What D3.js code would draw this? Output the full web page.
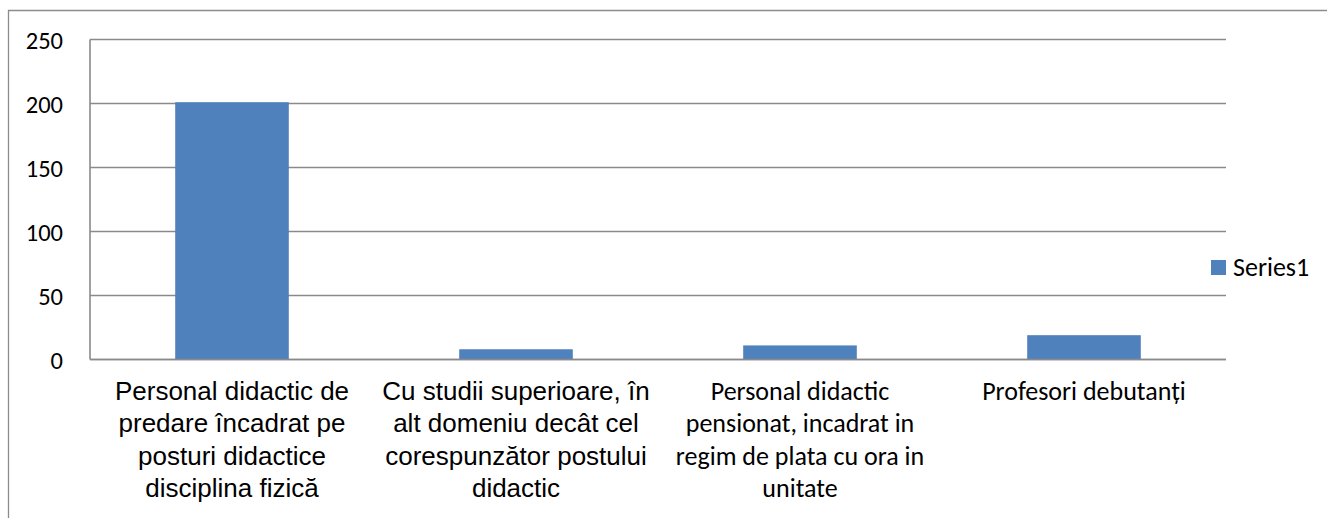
<!DOCTYPE html>
<html>
<head>
<meta charset="utf-8">
<script src="https://cdn.jsdelivr.net/npm/d3@7"></script>
<style>
  html, body { margin: 0; padding: 0; background: #fff; }
  svg { display: block; }
</style>
</head>
<body>
<svg id="chart" width="1327" height="518"></svg>
<script>
const categories = [
  ["Personal didactic de", "predare încadrat pe", "posturi didactice", "disciplina fizică"],
  ["Cu studii superioare, în", "alt domeniu decât cel", "corespunzător postului", "didactic"],
  ["Personal didactic", "pensionat, incadrat in", "regim de plata cu ora in", "unitate"],
  ["Profesori debutanți"]
];
const labelFonts = ["arial", "arial", "calibri", "calibri"];
const series1 = [201, 8, 11, 19];
const yTicks = [0, 50, 100, 150, 200, 250];
const seriesName = "Series1";

const svg = d3.select("#chart");
const W = 1327, H = 518;
const plot = { left: 90, right: 1226, top: 39.5, bottom: 359.5 };
const gridColor = "#8a8a8a";
const barColor = "#4f81bd";
const fontCal = "Calibri, Carlito, Lato, sans-serif";
const fontAri = "Arial, 'Liberation Sans', sans-serif";

// outer border (top + left visible)
svg.append("path")
  .attr("d", `M8.5,${H} L8.5,10.5 L${W},10.5`)
  .attr("fill", "none").attr("stroke", "#8c8c8c").attr("stroke-width", 1.3);

const x = d3.scaleBand()
  .domain(d3.range(categories.length))
  .range([plot.left, plot.right])
  .paddingInner(0.6).paddingOuter(0.3);

const y = d3.scaleLinear().domain([0, 250]).range([plot.bottom, plot.top]);

// gridlines
svg.append("g").selectAll("line").data(yTicks).join("line")
  .attr("x1", plot.left).attr("x2", plot.right)
  .attr("y1", d => y(d)).attr("y2", d => y(d))
  .attr("stroke", gridColor).attr("stroke-width", 1.6);

// y axis line
svg.append("line")
  .attr("x1", plot.left).attr("x2", plot.left)
  .attr("y1", y(250)).attr("y2", y(0))
  .attr("stroke", gridColor).attr("stroke-width", 1.6);

// y axis labels via d3 axis
const yAxis = d3.axisLeft(y).tickValues(yTicks).tickSize(0).tickPadding(0);
const yg = svg.append("g").attr("transform", `translate(${plot.left - 27},0)`).call(yAxis);
yg.select(".domain").remove();
yg.selectAll("text")
  .attr("font-family", fontCal).attr("font-size", 24.5).attr("fill", "#000")
  .attr("dy", "0.35em");

// bars
svg.append("g").selectAll("rect").data(series1).join("rect")
  .attr("x", (d, i) => x(i))
  .attr("width", x.bandwidth())
  .attr("y", d => y(d))
  .attr("height", d => y(0) - y(d))
  .attr("fill", barColor);

// redraw baseline over bars
svg.append("line")
  .attr("x1", plot.left).attr("x2", plot.right)
  .attr("y1", y(0)).attr("y2", y(0))
  .attr("stroke", gridColor).attr("stroke-width", 1.6);

// category labels
const lg = svg.append("g");
categories.forEach((lines, i) => {
  const cx = x(i) + x.bandwidth() / 2;
  const isArial = labelFonts[i] === "arial";
  const t = lg.append("text")
    .attr("text-anchor", "middle")
    .attr("font-family", isArial ? fontAri : fontCal)
    .attr("font-size", isArial ? 26 : 26)
    .attr("fill", "#000");
  lines.forEach((ln, j) => {
    t.append("tspan").attr("x", cx).attr("y", 400 + j * 32.3).text(ln);
  });
});

// legend
const leg = svg.append("g");
leg.append("rect").attr("x", 1211).attr("y", 260).attr("width", 15).attr("height", 15).attr("fill", barColor);
leg.append("text").attr("x", 1233).attr("y", 275.5)
  .attr("font-family", fontCal).attr("font-size", 26).attr("fill", "#000")
  .text(seriesName);
</script>
</body>
</html>
